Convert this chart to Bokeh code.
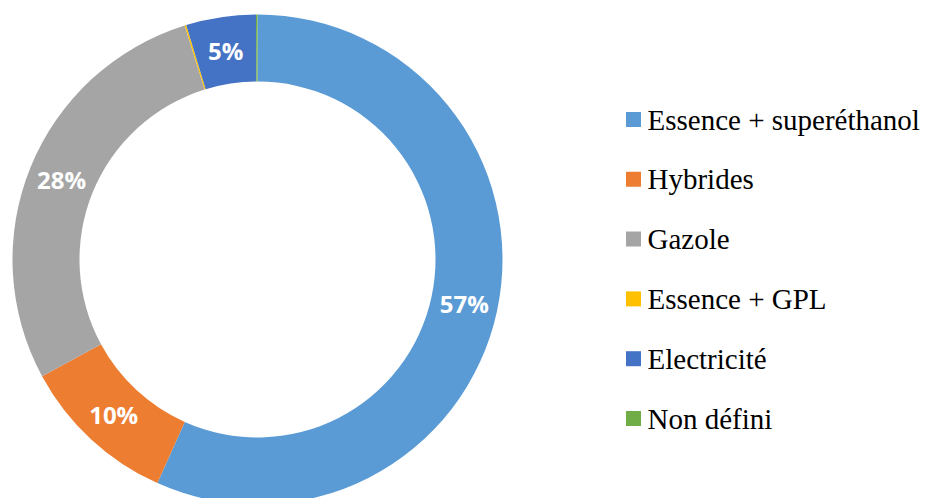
import math
from bokeh.plotting import figure
from bokeh.models import Range1d, ColumnDataSource, Label
from bokeh.embed import file_html
from bokeh.resources import INLINE

categories = ["Essence + superéthanol", "Hybrides", "Gazole", "Essence + GPL", "Electricité", "Non défini"]
shares = [56.7, 10.4, 28.1, 0.1, 4.6, 0.1]
colors = ["#5B9BD5", "#ED7D31", "#A5A5A5", "#FFC000", "#4472C4", "#70AD47"]
show_label = [True, True, True, False, True, False]

W, H = 925, 498
IMG_H = 498
p = figure(width=W, height=H, output_backend="svg", toolbar_location=None,
           x_range=Range1d(0, W), y_range=Range1d(0, IMG_H),
           x_axis_location=None, y_axis_location=None,
           min_border=0, outline_line_color=None)
p.grid.visible = False

cx, cy = 257, IMG_H - 259
r_out, r_in = 245, 178

total = sum(shares)
starts, ends = [], []
cum = 0.0
for s in shares:
    a0 = math.pi / 2 - 2 * math.pi * cum / total
    cum += s
    a1 = math.pi / 2 - 2 * math.pi * cum / total
    starts.append(a0)
    ends.append(a1)

src = ColumnDataSource(dict(start=starts, end=ends, color=colors))
p.annular_wedge(x=cx, y=cy, inner_radius=r_in, outer_radius=r_out,
                start_angle="start", end_angle="end", direction="clock",
                fill_color="color", line_color=None, source=src)

rm = (r_out + r_in) / 2
for s, a0, a1, show in zip(shares, starts, ends, show_label):
    if not show:
        continue
    mid = (a0 + a1) / 2
    p.add_layout(Label(x=cx + rm * math.cos(mid), y=cy + rm * math.sin(mid),
                       x_units="data", y_units="data", text=f"{int(s + 0.5)}%",
                       text_color="white", text_font="Open Sans", text_font_style="bold",
                       text_font_size="24px", text_align="center", text_baseline="middle"))

# legend
leg_x = 633
leg_y0 = 119
leg_dy = 59.8
ys = [IMG_H - (leg_y0 + i * leg_dy) for i in range(len(categories))]
lsrc = ColumnDataSource(dict(y=ys, color=colors))
p.rect(x=leg_x, y="y", width=15, height=15, fill_color="color", line_color=None, source=lsrc)
for name, y in zip(categories, ys):
    p.add_layout(Label(x=leg_x + 14, y=y, x_units="data", y_units="data", text=name,
                       text_color="black", text_font="Liberation Serif",
                       text_font_size="29px", text_align="left", text_baseline="middle"))

open("out.html", "w").write(file_html(p, INLINE))
